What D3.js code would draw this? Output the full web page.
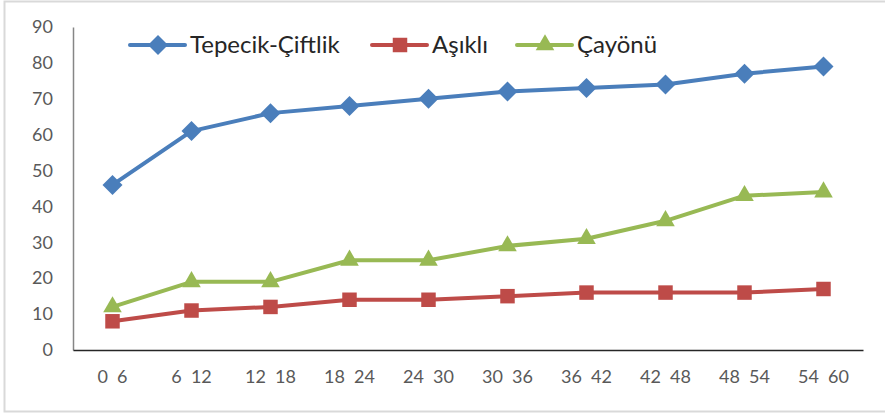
<!DOCTYPE html>
<html>
<head>
<meta charset="utf-8">
<script src="https://cdn.jsdelivr.net/npm/d3@7"></script>
<style>
  body { margin: 0; background: #fff; }
  svg text { font-family: Lato, "Open Sans", sans-serif; }
</style>
</head>
<body>
<div id="chart"></div>
<script>
// DATA
// Age groups along the x axis
var ageGroups = ["0  6", "6  12", "12  18", "18  24", "24  30", "30  36", "36  42", "42  48", "48  54", "54  60"];

// Values for each site
var tepecikValues = [46, 61, 66, 68, 70, 72, 73, 74, 77, 79],
    asikliValues = [8, 11, 12, 14, 14, 15, 16, 16, 16, 17],
    cayonuValues = [12, 19, 19, 25, 25, 29, 31, 36, 43, 44];

var yTicks = [0, 10, 20, 30, 40, 50, 60, 70, 80, 90];

// Series table built from the arrays above
var series = [
    { name: "Tepecik-Çiftlik", values: tepecikValues, color: "#4a7ebb", symbol: "diamond" },
    { name: "Aşıklı", values: asikliValues, color: "#be4b48", symbol: "square" },
    { name: "Çayönü", values: cayonuValues, color: "#98b954", symbol: "triangle" }
];

var width = 885,
    height = 416,
    margin = { top: 27, right: 22, bottom: 66, left: 73 };

var svg = d3.select("#chart").append("svg")
    .attr("width", width)
    .attr("height", height);

// outer frame
svg.append("rect")
    .attr("x", 4.5)
    .attr("y", 1.5)
    .attr("width", width + 10)
    .attr("height", 410)
    .attr("fill", "none")
    .attr("stroke", "#d9d9d9")
    .attr("stroke-width", 2);

var x = d3.scaleBand()
    .domain(ageGroups)
    .range([margin.left, width - margin.right]);

var y = d3.scaleLinear()
    .domain([0, 90])
    .range([height - margin.bottom, margin.top]);

// y axis
var yAxis = svg.append("g")
    .attr("transform", "translate(" + margin.left + ",0)")
    .call(d3.axisLeft(y).tickValues(yTicks).tickSize(0).tickPadding(20));
yAxis.select(".domain").attr("stroke", "#868686").attr("stroke-width", 1.5);
yAxis.selectAll("text")
    .attr("fill", "#595959")
    .style("font-size", "18px");

// x axis
var xAxis = svg.append("g")
    .attr("transform", "translate(0," + (height - margin.bottom) + ")")
    .call(d3.axisBottom(x).tickSize(0).tickPadding(20));
xAxis.select(".domain").attr("stroke", "#262626").attr("stroke-width", 1.5);
xAxis.selectAll("text")
    .attr("fill", "#595959")
    .style("font-size", "18px")
    .style("white-space", "pre")
    .attr("xml:space", "preserve");

function symbolFor(s) {
    switch (s) {
        case "diamond":
            return d3.symbol().type(d3.symbolSquare).size(200);
        case "square":
            return d3.symbol().type(d3.symbolSquare).size(210);
        case "triangle":
            return d3.symbol().type(d3.symbolTriangle).size(150);
    }
}

var line = d3.line()
    .x(function(d, i) { return x(ageGroups[i]) + x.bandwidth() / 2; })
    .y(function(d) { return y(d); });

series.forEach(function(s) {
    var g = svg.append("g");
    g.append("path")
        .attr("d", line(s.values))
        .attr("fill", "none")
        .attr("stroke", s.color)
        .attr("stroke-width", 4)
        .attr("stroke-linejoin", "round");

    g.selectAll(".pt")
        .data(s.values)
      .enter().append("path")
        .attr("class", "pt")
        .attr("d", symbolFor(s.symbol))
        .attr("fill", s.color)
        .attr("transform", function(d, i) {
            var t = "translate(" + (x(ageGroups[i]) + x.bandwidth() / 2) + "," + y(d) + ")";
            return s.symbol == "diamond" ? t + " rotate(45)" : t;
        });
});

// legend
var legendX = [130, 372, 517];
series.forEach(function(s, i) {
    var lg = svg.append("g")
        .attr("transform", "translate(" + legendX[i] + ",45)");
    lg.append("line")
        .attr("x1", 0).attr("x2", 55)
        .attr("stroke", s.color)
        .attr("stroke-width", 4)
        .attr("stroke-linecap", "round");
    lg.append("path")
        .attr("d", symbolFor(s.symbol))
        .attr("fill", s.color)
        .attr("transform", "translate(28,0)" + (s.symbol == "diamond" ? " rotate(45)" : ""));
    lg.append("text")
        .attr("x", 60)
        .attr("dy", "0.35em")
        .attr("fill", "#262626")
        .style("font-size", "24px")
        .text(s.name);
});
</script>
</body>
</html>
